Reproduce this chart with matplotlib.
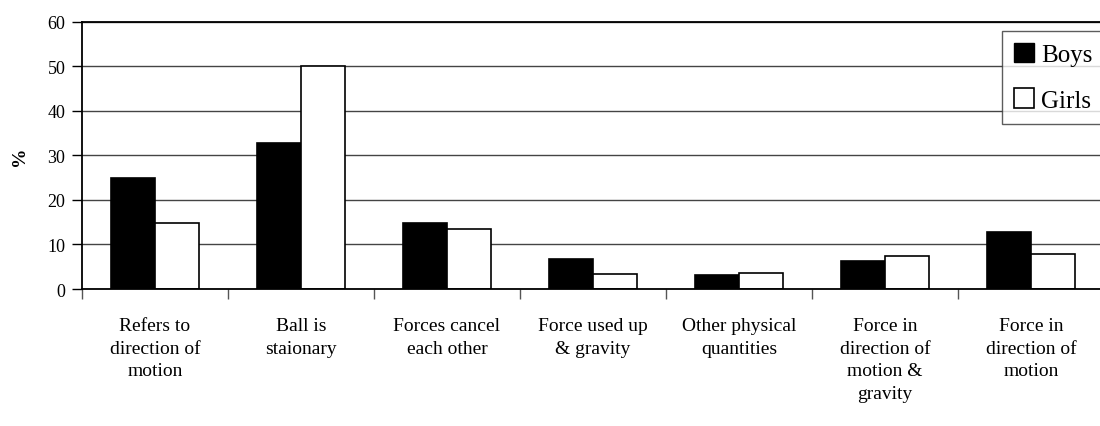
import numpy as np
import matplotlib.pyplot as plt
from matplotlib.patches import Patch

plt.rcParams['font.family'] = ['Liberation Serif', 'DejaVu Serif']

categorias = ['Refers to\ndirection of\nmotion', 'Ball is\nstaionary',
              'Forces cancel\neach other', 'Force used up\n& gravity',
              'Other physical\nquantities', 'Force in\ndirection of\nmotion &\ngravity',
              'Force in\ndirection of\nmotion']
boys = [25, 32.8, 14.8, 6.7, 3.1, 6.2, 12.8]
girls = [14.8, 50, 13.5, 3.4, 3.7, 7.4, 7.8]

x = np.arange(len(categorias))
ancho = 0.30

fig = plt.figure(figsize=(11, 4.27), dpi=100)
ax = fig.add_axes([0.0745, 0.3208, 0.929, 0.626])

ax.set_axisbelow(True)
ax.yaxis.grid(True, color='#444444', linewidth=1.0)
ax.bar(x - ancho/2, boys, ancho, color='black', edgecolor='black', linewidth=1.2, label='Boys')
ax.bar(x + ancho/2, girls, ancho, color='white', edgecolor='black', linewidth=1.2, label='Girls')

ax.set_xlim(-0.5, len(categorias) - 0.5)
ax.set_ylim(0, 60)
ax.set_yticks(range(0, 61, 10))
ax.tick_params(axis='y', labelsize=13, length=7, width=1, pad=5)

# ticks between the groups, labels centred under each group
ax.set_xticks(np.arange(-0.5, len(categorias), 1))
ax.set_xticklabels([])
ax.tick_params(axis='x', which='major', length=7, width=1, color='#555555')
ax.set_xticks(x, minor=True)
ax.set_xticklabels(categorias, minor=True, fontsize=14, linespacing=1.45)
ax.tick_params(axis='x', which='minor', length=0, pad=20)

for lado in ['left', 'bottom', 'top']:
    ax.spines[lado].set_linewidth(1.3)
    ax.spines[lado].set_color('black')
ax.spines['right'].set_visible(False)

ax.set_ylabel('%', fontsize=14, fontweight='bold', labelpad=14)

handles = [Patch(facecolor='black', edgecolor='black'),
           Patch(facecolor='white', edgecolor='black', linewidth=1.2)]
leg = fig.legend(handles, ['Boys', 'Girls'], loc='upper left',
                 bbox_to_anchor=(1002/1100, 1 - 31.7/427), fontsize=18,
                 frameon=True, fancybox=False, handlelength=0.8, handleheight=0.8,
                 handletextpad=0.3, labelspacing=0.9, borderpad=0.48,
                 borderaxespad=0)
leg.get_frame().set_edgecolor('#333333')
leg.get_frame().set_linewidth(1.0)

plt.savefig('out.png', dpi=100)
